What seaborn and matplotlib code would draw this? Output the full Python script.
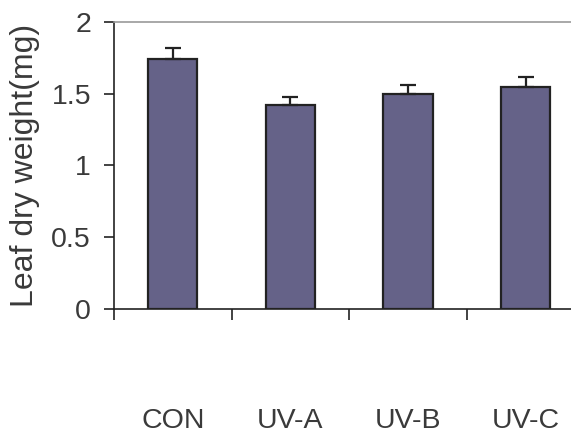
import numpy as np
import pandas as pd
import seaborn as sns
import matplotlib.pyplot as plt
from matplotlib.ticker import FixedLocator

sns.set_style("white")
plt.rcParams["font.family"] = ["Liberation Sans", "DejaVu Sans"]

# values
groups = ["CON", "UV-A", "UV-B", "UV-C"]
means = [1.74, 1.42, 1.50, 1.55]
errs = [0.08, 0.055, 0.058, 0.07]

df = pd.DataFrame({"group": groups, "weight": means})

fig = plt.figure(figsize=(5.71, 4.33), dpi=100)
ax = fig.add_axes([0.1996, 0.2864, 0.8241, 0.6628])

sns.barplot(data=df, x="group", y="weight", color="#656288", saturation=1,
            width=0.42, edgecolor="#222222", linewidth=1.6, errorbar=None, ax=ax)
ax.errorbar(range(len(groups)), means, yerr=[np.zeros(len(errs)), errs],
            fmt="none", ecolor="#222222", elinewidth=1.6, capsize=6, capthick=1.6)

ax.set_xlim(-0.5, 3.5)
ax.set_ylim(0, 2)
ax.set_yticks([0, 0.5, 1, 1.5, 2])
ax.set_yticklabels(["0", "0.5", "1", "1.5", "2"])
# boundary ticks between the groups
ax.xaxis.set_minor_locator(FixedLocator([-0.5, 0.5, 1.5, 2.5, 3.5]))

txt = "#3a3a3a"
ax.tick_params(axis="x", which="major", length=0, pad=71, labelsize=20.5, labelcolor=txt)
ax.tick_params(axis="x", which="minor", length=8, width=1.2, color="#222222",
               direction="out", bottom=True)
ax.tick_params(axis="y", which="major", length=7.5, width=1.2, color="#222222",
               direction="out", left=True, pad=9, labelsize=20.5, labelcolor=txt)

ax.set_xlabel("")
ax.set_ylabel("Leaf dry weight(mg)", fontsize=23, color=txt, labelpad=8)

for side in ["left", "bottom"]:
    ax.spines[side].set_color("#222222")
    ax.spines[side].set_linewidth(1.2)
ax.spines["top"].set_color("#999999")
ax.spines["top"].set_linewidth(1.2)
ax.spines["right"].set_visible(False)

fig.savefig("out.png", dpi=100)
